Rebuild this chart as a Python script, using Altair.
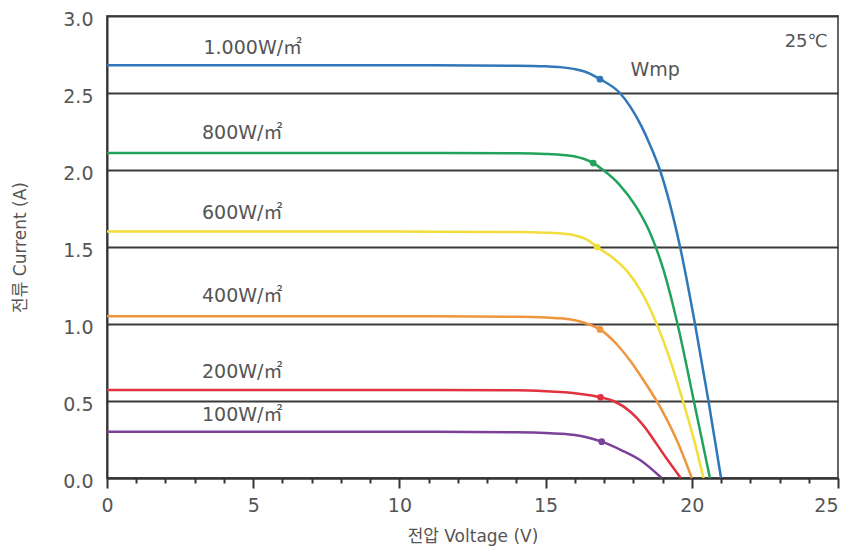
import altair as alt
import pandas as pd

# ---- data ----
series = ["1.000W/㎡", "800W/㎡", "600W/㎡", "400W/㎡", "200W/㎡", "100W/㎡"]
colors = ["#2f77b9", "#22a35c", "#f1dd3c", "#ef953d", "#e0323f", "#7b4199"]

v_1000 = [0, 10, 14, 15, 15.5, 16.0, 16.4, 16.86, 17.54, 17.9, 18.29, 18.6, 18.91, 19.25, 19.6, 20.11, 20.57, 21.0]
i_1000 = [2.68, 2.68, 2.677, 2.673, 2.668, 2.655, 2.635, 2.59, 2.50, 2.41, 2.28, 2.15, 2.00, 1.78, 1.50, 1.00, 0.50, 0.0]
v_800 = [0, 10, 14, 15, 15.5, 16.0, 16.3, 16.63, 16.97, 17.5, 18.1, 18.6, 19.05, 19.5, 20.07, 20.62]
i_800 = [2.11, 2.11, 2.108, 2.104, 2.099, 2.088, 2.073, 2.045, 2.00, 1.91, 1.76, 1.58, 1.34, 1.01, 0.50, 0.0]
v_600 = [0, 10, 14, 15, 15.5, 16.0, 16.4, 16.76, 17.3, 17.8, 18.3, 18.8, 19.2, 19.65, 20.1, 20.4]
i_600 = [1.60, 1.60, 1.597, 1.593, 1.588, 1.575, 1.55, 1.50, 1.43, 1.34, 1.20, 1.00, 0.80, 0.53, 0.23, 0.0]
v_400 = [0, 10, 14, 15, 15.5, 16.0, 16.4, 16.86, 17.4, 17.9, 18.4, 18.95, 19.5, 20.0]
i_400 = [1.05, 1.05, 1.047, 1.043, 1.037, 1.024, 1.003, 0.965, 0.875, 0.76, 0.62, 0.45, 0.24, 0.0]
v_200 = [0, 10, 14, 15, 15.5, 16.0, 16.4, 16.88, 17.32, 17.9, 18.35, 18.8, 19.2, 19.62]
i_200 = [0.572, 0.572, 0.569, 0.563, 0.558, 0.550, 0.540, 0.524, 0.50, 0.43, 0.34, 0.22, 0.11, 0.0]
v_100 = [0, 10, 14, 15, 15.5, 16.0, 16.4, 16.92, 17.6, 18.23, 18.97]
i_100 = [0.30, 0.30, 0.297, 0.293, 0.288, 0.279, 0.265, 0.236, 0.18, 0.117, 0.0]

wmp_v = [16.86, 16.63, 16.76, 16.86, 16.88, 16.92]
wmp_i = [2.59, 2.045, 1.50, 0.965, 0.524, 0.236]

label_v = [3.3, 3.25, 3.25, 3.25, 3.25, 3.25]
label_i = [2.79, 2.24, 1.72, 1.18, 0.69, 0.41]

note_text = ["Wmp", "25℃"]
note_v = [17.9, 24.65]
note_i = [2.65, 2.83]
note_align = ["left", "right"]

x_ticks = list(range(0, 26))
y_ticks = [0.0, 0.5, 1.0, 1.5, 2.0, 2.5, 3.0]

# ---- build tables ----
curves_v = [v_1000, v_800, v_600, v_400, v_200, v_100]
curves_i = [i_1000, i_800, i_600, i_400, i_200, i_100]
rows = []
for s, vs, cs in zip(series, curves_v, curves_i):
    for k, (v, c) in enumerate(zip(vs, cs)):
        rows.append({"series": s, "V": v, "I": c, "order": k})
curves = pd.DataFrame(rows)
wmp = pd.DataFrame({"series": series, "V": wmp_v, "I": wmp_i})
labels = pd.DataFrame({"series": series, "V": label_v, "I": label_i})
notes = pd.DataFrame({"text": note_text, "V": note_v, "I": note_i, "align": note_align})

FONT = "DejaVu Sans, Noto Sans CJK KR"
TXT = "#555555"

xscale = alt.Scale(domain=[0, 25], nice=False)
yscale = alt.Scale(domain=[0, 3], nice=False)
cscale = alt.Scale(domain=series, range=colors)

xaxis = alt.Axis(
    title="전압 Voltage (V)",
    values=x_ticks,
    tickCount=len(x_ticks),
    labelExpr="datum.value % 5 === 0 ? datum.label : ''",
    labelOverlap=False,
    labelFlush=False,
    labelAlign={"condition": {"test": "datum.value === 25", "value": "right"}, "value": "center"},
    tickSize={"condition": {"test": "datum.value % 5 === 0", "value": 10}, "value": 5},
    tickColor="#333333",
    tickWidth=2,
    domainColor="#333333",
    domainWidth=2,
    labelFont=FONT,
    labelFontSize=19,
    labelColor=TXT,
    labelPadding=8,
    titleFont=FONT,
    titleFontSize=17,
    titleFontWeight="normal",
    titleColor=TXT,
    titleY=50,
    grid=False,
)
yaxis = alt.Axis(
    title="전류 Current (A)",
    values=y_ticks,
    format=".1f",
    ticks=False,
    domainColor="#333333",
    domainWidth=2,
    grid=True,
    gridColor="#3a3a3a",
    gridWidth=2,
    labelFont=FONT,
    labelFontSize=19,
    labelColor=TXT,
    labelPadding=14,
    labelOffset=3,
    labelFlush=False,
    titleFont=FONT,
    titleFontSize=17,
    titleFontWeight="normal",
    titleColor=TXT,
    titleX=-78,
)

lines = alt.Chart(curves).mark_line(interpolate="monotone", strokeWidth=2.5).encode(
    x=alt.X("V:Q", scale=xscale, axis=xaxis),
    y=alt.Y("I:Q", scale=yscale, axis=yaxis),
    color=alt.Color("series:N", scale=cscale, legend=None),
    detail="series:N",
    order="order:Q",
)

points = alt.Chart(wmp).mark_point(filled=True, size=45, opacity=1).encode(
    x=alt.X("V:Q", scale=xscale),
    y=alt.Y("I:Q", scale=yscale),
    color=alt.Color("series:N", scale=cscale, legend=None),
)

label_marks = alt.Chart(labels).mark_text(
    align="left", baseline="middle", font=FONT, fontSize=19, color=TXT
).encode(
    x=alt.X("V:Q", scale=xscale),
    y=alt.Y("I:Q", scale=yscale),
    text="series:N",
)

note_left = alt.Chart(notes[notes["align"] == "left"]).mark_text(
    align="left", baseline="middle", font=FONT, fontSize=19, color=TXT
).encode(x=alt.X("V:Q", scale=xscale), y=alt.Y("I:Q", scale=yscale), text="text:N")

note_right = alt.Chart(notes[notes["align"] == "right"]).mark_text(
    align="right", baseline="middle", font=FONT, fontSize=18, color=TXT
).encode(x=alt.X("V:Q", scale=xscale), y=alt.Y("I:Q", scale=yscale), text="text:N")

chart = alt.layer(lines, points, label_marks, note_left, note_right).properties(
    width=731,
    height=462,
    padding={"left": 99, "top": 8, "right": 9, "bottom": 70},
    autosize=alt.AutoSizeParams(type="none"),
).configure_view(stroke="#666666", strokeWidth=2)

chart.save("out.html", embed_options={"renderer": "svg", "actions": False})
